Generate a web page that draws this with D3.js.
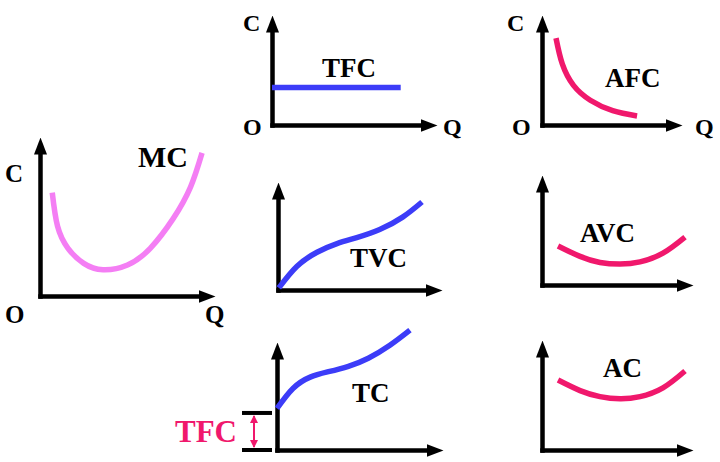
<!DOCTYPE html>
<html><head><meta charset="utf-8">
<script src="https://cdn.jsdelivr.net/npm/d3@7"></script>
<style>
html,body{margin:0;padding:0;background:#fff;}
svg{display:block;}
text{font-family:"Liberation Serif","Times New Roman",serif;font-weight:bold;}
</style>
</head><body>
<svg id="chart" width="720" height="462"></svg>
<script>
// ---- data (unitless 0..10 per panel) ----
const curveNames = ["MC", "TFC", "AFC", "TVC", "TC", "AVC", "AC"];
const axisNames = ["C", "O", "Q"];
const mcValues  = [[0.7,6.5],[1.0,4.4],[1.6,3.0],[2.5,2.05],[3.6,1.65],[5.0,1.95],[6.3,3.0],[7.6,4.85],[8.6,6.85],[9.26,9.0]];
const tfcValues = [[0,3.4],[7.8,3.4]];
const afcValues = [[1.0,7.9],[1.45,5.55],[2.25,3.6],[3.45,2.25],[5.05,1.3],[6.79,0.82]];
const tvcValues = [[0.05,0.2],[1.16,2.2],[2.38,3.5],[3.6,4.3],[4.8,4.85],[6.2,5.6],[7.6,6.75],[8.78,8.15]];
const tcValues  = [[0,3.85],[0.96,5.7],[2.0,6.75],[3.1,7.25],[4.3,7.75],[5.5,8.5],[6.8,9.7],[8.01,11.1]];
const avcValues = [[1.06,3.55],[2.52,2.6],[3.84,2.05],[5.17,1.9],[6.49,2.1],[8.01,2.9],[9.47,4.36]];
const acValues  = [[1.06,6.36],[2.52,5.4],[3.84,4.85],[5.17,4.65],[6.49,4.85],[8.01,5.65],[9.47,7.18]];
const tfcLevel  = [0, 3.43];

// ---- layout ----
const VIOLET = "#f47ef4", PINK = "#f0186c", BLUE = "#3c3cf8";
const panels = [
  {name:"MC",  data:mcValues,  color:VIOLET, x0:40,  y0:296, x1:215, y1:137, lab:[138,167,30],
   axisLab:[[5,182],[5,323],[205,323]], axisSize:25},
  {name:"TFC", data:tfcValues, color:BLUE,   x0:272, y0:125, x1:437, y1:15,  lab:[322,77,27],
   axisLab:[[243,31],[243,135],[443,135]], axisSize:24, linear:true},
  {name:"AFC", data:afcValues, color:PINK,   x0:542, y0:125, x1:682, y1:15,  lab:[605,87,27],
   axisLab:[[507,31],[512,135],[695,135]], axisSize:24},
  {name:"TVC", data:tvcValues, color:BLUE,   x0:278, y0:290, x1:442, y1:182, lab:[350,267,27]},
  {name:"TC",  data:tcValues,  color:BLUE,   x0:277, y0:450, x1:443, y1:342, lab:[352,402,27]},
  {name:"AVC", data:avcValues, color:PINK,   x0:542, y0:285, x1:693, y1:175, lab:[580,242,27]},
  {name:"AC",  data:acValues,  color:PINK,   x0:542, y0:450, x1:693, y1:340, lab:[603,377,27]}
];

const svg = d3.select("#chart");
const defs = svg.append("defs");
defs.append("marker").attr("id","arr").attr("viewBox","0 0 17 13")
  .attr("markerWidth",17).attr("markerHeight",13).attr("markerUnits","userSpaceOnUse")
  .attr("refX",2).attr("refY",6.5).attr("orient","auto")
  .append("path").attr("d","M0,0L17,6.5L0,13Z").attr("fill","#000");
defs.append("marker").attr("id","parr").attr("viewBox","0 0 8 8")
  .attr("markerWidth",8).attr("markerHeight",8).attr("markerUnits","userSpaceOnUse")
  .attr("refX",7).attr("refY",4).attr("orient","auto-start-reverse")
  .append("path").attr("d","M0,0L8,4L0,8Z").attr("fill",PINK);

panels.forEach((p, i) => {
  const g = svg.append("g").attr("class","panel-"+p.name);
  const x = d3.scaleLinear().domain([0,10]).range([p.x0, p.x1]);
  const y = d3.scaleLinear().domain([0,10]).range([p.y0, p.y1]);
  const xAx = d3.scaleLinear().domain([0,10]).range([p.x0, p.x1 - 15]);
  const yAx = d3.scaleLinear().domain([0,10]).range([p.y0, p.y1 + 15]);

  g.append("g").attr("transform",`translate(0,${p.y0})`)
    .call(d3.axisBottom(xAx).ticks(0).tickSizeOuter(0));
  g.append("g").attr("transform",`translate(${p.x0},0)`)
    .call(d3.axisLeft(yAx).ticks(0).tickSizeOuter(0));
  g.selectAll(".domain").attr("stroke","#000").attr("stroke-width",4.5)
    .attr("stroke-linecap","square").attr("marker-end","url(#arr)");

  const line = d3.line().x(d => x(d[0])).y(d => y(d[1]))
    .curve(p.linear ? d3.curveLinear : d3.curveNatural);
  g.append("path").datum(p.data).attr("d", line)
    .attr("fill","none").attr("stroke",p.color).attr("stroke-width",5.5)
    .attr("stroke-linecap","butt");

  g.append("text").attr("x",p.lab[0]).attr("y",p.lab[1])
    .attr("font-size",p.lab[2]).attr("fill","#000").text(curveNames[i]);

  if (p.axisLab) {
    p.axisLab.forEach((pos, j) => {
      g.append("text").attr("x",pos[0]).attr("y",pos[1])
        .attr("font-size",p.axisSize).attr("fill","#000").text(axisNames[j]);
    });
  }

  if (p.name === "TC") {
    // TFC bracket
    [tfcLevel[1], tfcLevel[0]].forEach(v => {
      g.append("line").attr("x1",242).attr("x2",272)
        .attr("y1",y(v)).attr("y2",y(v)).attr("stroke","#000").attr("stroke-width",4);
    });
    g.append("line").attr("x1",254).attr("x2",254)
      .attr("y1",y(tfcLevel[1]) + 3).attr("y2",y(tfcLevel[0]) - 3)
      .attr("stroke",PINK).attr("stroke-width",2)
      .attr("marker-start","url(#parr)").attr("marker-end","url(#parr)");
    g.append("text").attr("x",175).attr("y",442).attr("font-size",31)
      .attr("fill",PINK).text("TFC");
  }
});
</script>
</body></html>
